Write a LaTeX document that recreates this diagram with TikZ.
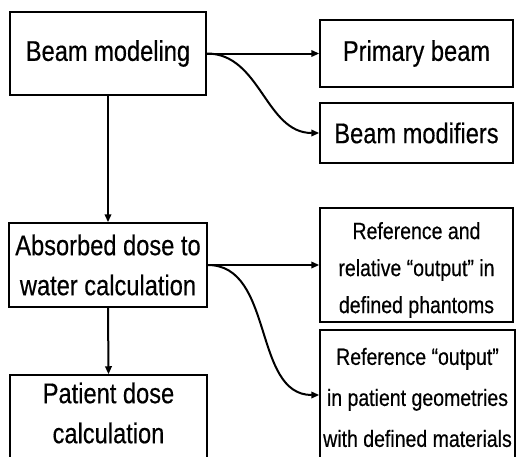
\documentclass[tikz,border=0pt]{standalone}
\usepackage{fontspec}
\setmainfont{Liberation Sans}[FakeStretch=0.83,FakeBold=0.4]
\usetikzlibrary{arrows.meta}
\begin{document}
\begin{tikzpicture}[x=1pt,y=-1pt,
  box/.style={draw, line width=1.5pt, inner sep=0pt, align=center},
  big/.style={font=\fontsize{28.5}{40}\selectfont},
  small/.style={font=\fontsize{23.5}{37}\selectfont},
  txt/.style={inner sep=0pt, align=center},
  conn/.style={line width=2pt, -{Triangle[length=8pt,width=6.5pt]}}]
\clip (0,0) rectangle (517,456);
\fill[white] (0,0) rectangle (517,456);
% boxes
\node[box,big,minimum width=196pt,minimum height=83pt] (bm) at (108,53.5) {Beam modeling};
\node[box,big,minimum width=193pt,minimum height=67pt] (pb) at (416.5,53.5) {Primary beam};
\node[box,big,minimum width=193pt,minimum height=60pt] (mod) at (416.5,133) {Beam modifiers};
\node[box,big,minimum width=198pt,minimum height=84pt] (abs) at (108,265) {Absorbed dose to\\water calculation};
\node[box,minimum width=197pt,minimum height=90pt] (pat) at (108.5,420) {};
\node[txt,big] (patT) at (108.5,413) {Patient dose\\calculation};
\node[box,minimum width=193pt,minimum height=114pt] (ref) at (416.5,265) {};
\node[txt,small] (refT) at (416.5,270) {Reference and\\relative “output” in\\defined phantoms};
\node[box,minimum width=195pt,minimum height=130pt] (out) at (417.5,395) {};
\node[txt,font=\fontsize{23.5}{41}\selectfont] (outT) at (417.5,397.5) {Reference “output”\\in patient geometries\\with defined materials};
% connectors
\draw[conn] (bm.east) -- (pb.west);
\draw[conn] (bm.east) to[out=0,in=180] (mod.west);
\draw[conn] (bm.south) -- (abs.north);
\draw[conn] (abs.east) -- (ref.west);
\draw[conn] (abs.east) to[out=0,in=180] (out.west);
\draw[conn] (abs.south) -- (pat.north);
\end{tikzpicture}
\end{document}
